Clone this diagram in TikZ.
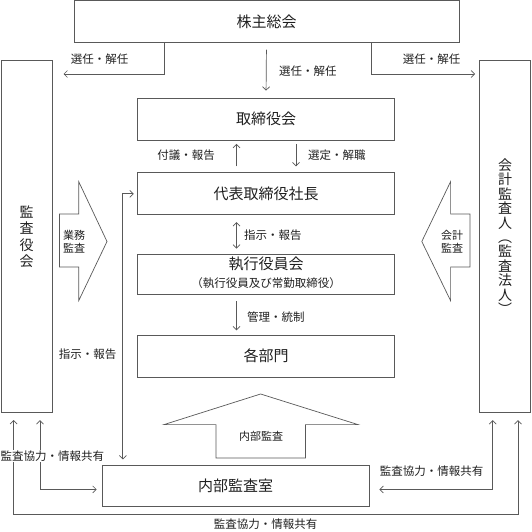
\documentclass[tikz,border=0pt]{standalone}
\usepackage{fontspec}
\setmainfont{Noto Sans CJK JP}
\usetikzlibrary{arrows.meta}
\definecolor{lc}{gray}{0.35}
\definecolor{tc}{gray}{0.12}
\begin{document}
\begin{tikzpicture}[x=1pt,y=-1pt,
  box/.style={draw=lc, line width=0.7pt, inner sep=0pt, text=tc, font=\fontsize{15}{18}\selectfont},
  arr/.style={draw=lc, line width=0.7pt, -{Straight Barb[length=3.5pt,width=7pt]}},
  arr2/.style={draw=lc, line width=0.7pt, {Straight Barb[length=3.5pt,width=7pt]}-{Straight Barb[length=3.5pt,width=7pt]}},
  lab/.style={text=tc, inner sep=1pt, font=\fontsize{11.5}{13}\selectfont},
  bigarrow/.style={draw=lc, line width=0.7pt, fill=white}]
\useasboundingbox (0,0) rectangle (532,532);

% boxes
\node[box, minimum width=385pt, minimum height=42pt] (sh) at (266.5,21.4) {株主総会};
\node[box, minimum width=257pt, minimum height=42pt] (tk) at (266,119) {取締役会};
\node[box, minimum width=257pt, minimum height=42pt] (dh) at (266,193.8) {代表取締役社長};
\node[box, minimum width=257pt, minimum height=40pt] (sy) at (266,274) {};
\node[text=tc, font=\fontsize{15}{18}\selectfont] (syt) at (266,264) {執行役員会};
\node[lab, font=\fontsize{11.5}{13}\selectfont] (sys) at (266,283.5) {（執行役員及び常勤取締役）};
\node[box, minimum width=257pt, minimum height=42pt] (bm) at (266,356) {各部門};
\node[box, minimum width=267pt, minimum height=41pt] (nb) at (235.5,486) {内部監査室};
\node[box, minimum width=51pt, minimum height=352pt, align=center, font=\fontsize{14}{16.5}\selectfont] (ka) at (26.6,236.7) {監\\査\\役\\会};
\node[box, minimum width=51pt, minimum height=352pt, align=center, font=\fontsize{14}{14.4}\selectfont] (kk) at (505,236.7) {会\\計\\監\\査\\人\\︵\\監\\査\\法\\人\\︶};

% big arrows
\draw[bigarrow] (59.4,214) -- (78.7,214) -- (78.7,181.6) -- (107,241.5) -- (78.7,300.7) -- (78.7,267) -- (59.4,267) -- cycle;
\node[lab, align=center, font=\fontsize{11}{13}\selectfont] (gyomu) at (74,241.5) {業務\\監査};
\draw[bigarrow] (470,214) -- (450.6,214) -- (450.6,181.6) -- (421.8,241.5) -- (450.6,300.7) -- (450.6,267) -- (470,267) -- cycle;
\node[lab, align=center, font=\fontsize{11}{13}\selectfont] (kaikei) at (452,241.5) {会計\\監査};
\draw[bigarrow] (216,458) -- (216,424.6) -- (164,424.6) -- (260.6,394) -- (358,424.6) -- (305.4,424.6) -- (305.4,458) -- cycle;
\node[lab, font=\fontsize{11}{13}\selectfont] (naibu) at (261,436) {内部監査};

% coordinates
\coordinate (selLx) at (164,0);
\coordinate (selLend) at (63.5,74);
\coordinate (selRx) at (371.6,0);
\coordinate (selRend) at (475,74);
\coordinate (fx) at (236.5,0);
\coordinate (sx) at (296,0);
\coordinate (lx) at (122.8,0);
\coordinate (ax) at (40,0);
\coordinate (ay) at (0,489.4);
\coordinate (bx) at (13.6,0);
\coordinate (bx2) at (518,0);
\coordinate (by) at (0,514);
\coordinate (cx) at (492.7,0);

% connectors
\draw[arr] (selLx |- sh.south) |- (selLend);
\draw[arr, shorten <=7pt, shorten >=7pt] (sh.south) -- (tk.north);
\draw[arr] (selRx |- sh.south) |- (selRend);
\draw[arr, shorten <=6pt, shorten >=3.6pt] (fx |- dh.north) -- (fx |- tk.south);
\draw[arr, shorten <=3.6pt, shorten >=6pt] (sx |- tk.south) -- (sx |- dh.north);
\draw[arr2, shorten <=7pt, shorten >=5pt] (fx |- dh.south) -- (fx |- sy.north);
\draw[arr, shorten <=6.7pt, shorten >=4.3pt] (fx |- sy.south) -- (fx |- bm.north);
\draw[arr2, shorten <=3.4pt, shorten >=5.7pt] (dh.west) -| (lx |- nb.north);
\draw[arr2, shorten <=7pt, shorten >=5pt] (ax |- ka.south) -- (ax |- ay) -- (nb.west |- ay);
\draw[arr2, shorten <=7pt, shorten >=7pt] (bx |- ka.south) -- (bx |- by) -- (bx2 |- by) -- (bx2 |- kk.south);
\draw[arr2, shorten <=10pt, shorten >=7pt] (nb.east |- ay) -- (cx |- ay) -- (cx |- kk.south);

% labels
\node[lab] (l1) at (99.5,59) {選任・解任};
\node[lab, anchor=west] (l2) at (278,71) {選任・解任};
\node[lab] (l3) at (431.5,59) {選任・解任};
\node[lab, anchor=east] (l4) at (216,155.5) {付議・報告};
\node[lab, anchor=west] (l5) at (307,155.5) {選定・解職};
\node[lab, anchor=west] (l6) at (243,235) {指示・報告};
\node[lab, anchor=west] (l7) at (246,317) {管理・統制};
\node[lab] (l8) at (87.5,354) {指示・報告};
\node[lab, fill=white] (l9) at (52.5,456) {監査協力・情報共有};
\node[lab] (l10) at (431.5,471.4) {監査協力・情報共有};
\node[lab] (l11) at (265.5,524.5) {監査協力・情報共有};
\end{tikzpicture}
\end{document}
